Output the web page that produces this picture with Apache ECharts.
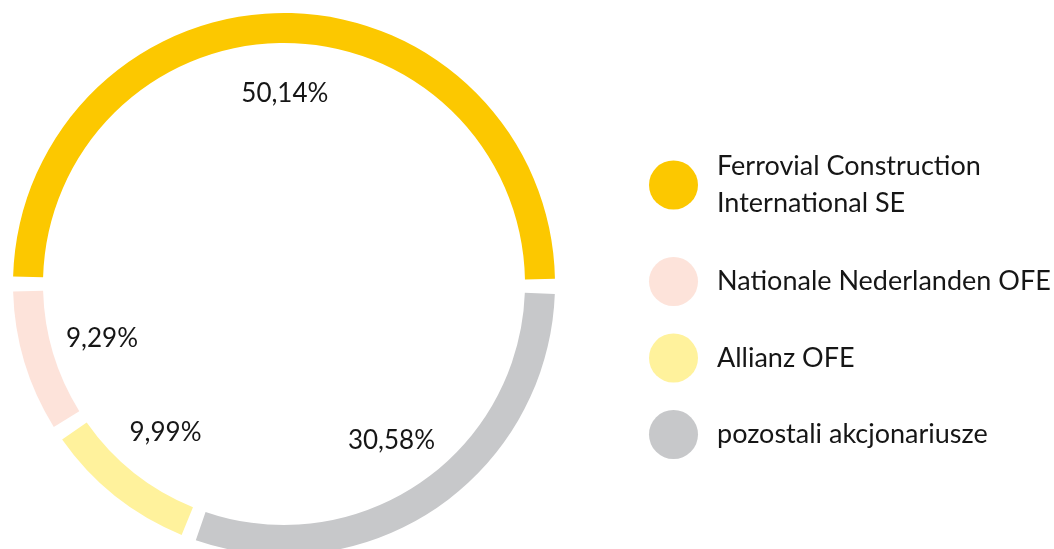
<!DOCTYPE html>
<html>
<head>
<meta charset="utf-8">
<script src="https://cdn.jsdelivr.net/npm/echarts@6/dist/echarts.min.js"></script>
<style>
html,body{margin:0;padding:0;background:#fff;}
#c{width:1054px;height:549px;}
</style>
</head>
<body>
<div id="c"></div>
<script>
const names = ['Ferrovial Construction\nInternational SE', 'pozostali akcjonariusze', 'Allianz OFE', 'Nationale Nederlanden OFE'];
const values = [50.14, 30.58, 9.99, 9.29];
const colors = ['#FCC800', '#C7C8CA', '#FFF29C', '#FDE3DA'];
const legendFirst = ['Ferrovial Construction\nInternational SE'];
const legendRest = ['Nationale Nederlanden OFE', 'Allianz OFE', 'pozostali akcjonariusze'];

const FONT = 'Lato';
const chart = echarts.init(document.getElementById('c'), null, {renderer: 'canvas'});
const ringData = names.map((n, i) => ({name: n, value: values[i], itemStyle: {color: colors[i]}}));
const labelData = names.map((n, i) => ({name: n, value: values[i]}));
const legendText = {fontFamily: FONT, fontSize: 27, color: '#161616', lineHeight: 37, padding: [0, 0, 0, 14]};

chart.setOption({
  backgroundColor: '#fff',
  animation: false,
  legend: [
    {
      data: legendFirst, orient: 'vertical', left: 649, top: 148, padding: 0,
      icon: 'circle', itemWidth: 49, itemHeight: 49, selectedMode: false,
      textStyle: legendText
    },
    {
      data: legendRest, orient: 'vertical', left: 649, top: 257, padding: 0,
      icon: 'circle', itemWidth: 49, itemHeight: 49, itemGap: 27.5, selectedMode: false,
      textStyle: legendText
    }
  ],
  series: [
    {
      type: 'pie', center: [284, 284], radius: [241, 271], startAngle: 180,
      padAngle: 3.2, clockwise: true, avoidLabelOverlap: false,
      label: {show: false}, labelLine: {show: false},
      emphasis: {disabled: true}, silent: true,
      data: ringData
    },
    {
      type: 'pie', center: [284, 284], radius: [146, 228], startAngle: 180,
      clockwise: true, avoidLabelOverlap: false, silent: true,
      itemStyle: {color: 'rgba(0,0,0,0)'},
      emphasis: {disabled: true},
      label: {
        show: true, position: 'inside', fontFamily: FONT, fontSize: 26, color: '#161616',
        formatter: p => p.value.toFixed(2).replace('.', ',') + '%'
      },
      labelLine: {show: false},
      data: labelData
    }
  ]
});
</script>
</body>
</html>
